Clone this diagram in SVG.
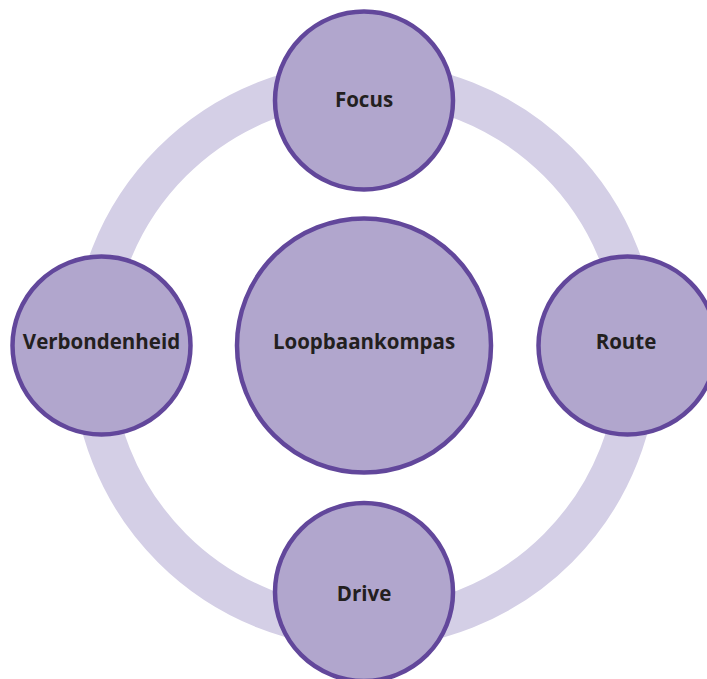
<svg xmlns="http://www.w3.org/2000/svg" width="707" height="679" viewBox="0 0 707 679">
  <style>
    .node { fill: #b1a6cd; stroke: #62479b; stroke-width: 4.5; }
    .label { font-family: "Open Sans", "Noto Sans", "Liberation Sans", sans-serif; font-weight: 700; font-size: 20.5px; fill: #231f20; text-anchor: middle; }
  </style>
  <rect width="707" height="679" fill="#ffffff"/>
  <g id="connectors">
    <circle cx="365" cy="355" r="273" fill="none" stroke="#d4cfe6" stroke-width="40"/>
  </g>
  <g id="hub">
    <circle class="node" cx="364" cy="345.5" r="127"/>
    <text class="label" x="364" y="349">Loopbaankompas</text>
  </g>
  <g id="focus">
    <circle class="node" cx="364" cy="100.5" r="89"/>
    <text class="label" x="364" y="107">Focus</text>
  </g>
  <g id="verbondenheid">
    <circle class="node" cx="101.5" cy="345.5" r="89"/>
    <text class="label" x="101.5" y="349">Verbondenheid</text>
  </g>
  <g id="route">
    <circle class="node" cx="627.5" cy="345.5" r="89"/>
    <text class="label" x="626" y="349">Route</text>
  </g>
  <g id="drive">
    <circle class="node" cx="364" cy="592" r="89"/>
    <text class="label" x="364" y="601">Drive</text>
  </g>
</svg>
